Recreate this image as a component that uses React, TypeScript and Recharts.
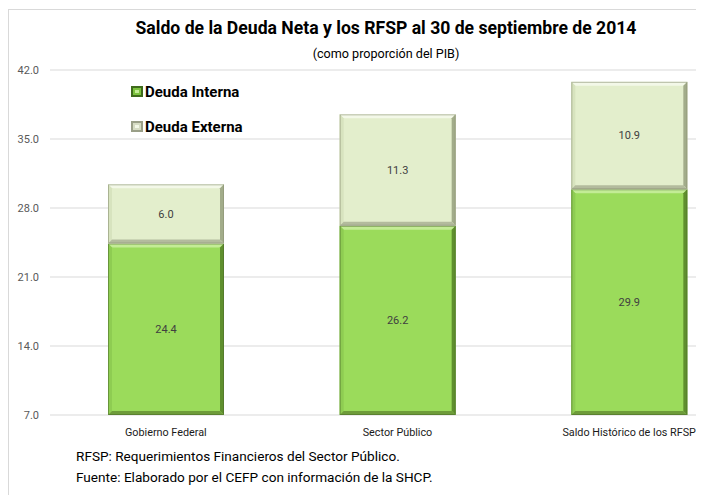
import React from 'react'
import { BarChart, Bar, XAxis, YAxis, CartesianGrid, Legend, LabelList } from 'recharts'

// values as % of GDP
const categories = ['Gobierno Federal', 'Sector Público', 'Saldo Histórico de los RFSP']
const deudaInterna = [24.4, 26.2, 29.9]
const deudaExterna = [6.0, 11.3, 10.9]
const yTicks = [7, 14, 21, 28, 35, 42]
const legendOrder = ['interna', 'externa']

const FONT = 'Roboto, "Noto Sans", sans-serif'

const bevelStyles: Record<string, any> = {
    interna: { fill: '#9BDB5B', top: '#C3EC95', left: '#8ECC52', right: '#5F8F2E', bottom: '#6E9C3A', edge: '#4F6F2B' },
    externa: { fill: '#E3EECC', top: '#F3F8E8', left: '#D7E3BE', right: '#A2AC8A', bottom: '#B3BB9D', edge: '#8C9374' },
}

const chartData = categories.map((name, i) => ({
    name,
    interna: deudaInterna[i],
    externa: deudaExterna[i],
}))

function bevelShape(key: string) {
    const c = bevelStyles[key]
    return (props: any) => {
        const { x, y, width: w, height: h } = props
        if (!w || !h || h <= 0) return <g />
        const b = Math.min(4, h / 3)
        const p = (pts: number[][]) => pts.map((q) => q.join(',')).join(' ')
        return (
            <g>
                <rect x={x} y={y} width={w} height={h} fill={c.fill} />
                <polygon points={p([[x, y], [x + w, y], [x + w - b, y + b], [x + b, y + b]])} fill={c.top} />
                <polygon points={p([[x, y], [x + b, y + b], [x + b, y + h - b], [x, y + h]])} fill={c.left} />
                <polygon points={p([[x + w, y], [x + w, y + h], [x + w - b, y + h - b], [x + w - b, y + b]])} fill={c.right} />
                <polygon points={p([[x, y + h], [x + b, y + h - b], [x + w - b, y + h - b], [x + w, y + h]])} fill={c.bottom} />
                <rect x={x + 0.5} y={y + 0.5} width={w - 1} height={h - 1} fill="none" stroke={c.edge} strokeWidth={1} strokeOpacity={0.6} />
            </g>
        )
    }
}

function LegendIcon({ k }: { k: string }) {
    const c = bevelStyles[k]
    const dark = k === 'interna' ? '#3F6B1C' : '#9A9F88'
    const mid = k === 'interna' ? '#7CC23E' : '#D6DCC4'
    return (
        <svg width={12} height={11} style={{ marginRight: 2 }}>
            <rect x={0} y={0} width={12} height={11} fill={dark} />
            <rect x={2} y={2} width={8} height={7} fill={mid} />
            <rect x={4} y={4} width={4} height={3} fill={c.top} />
        </svg>
    )
}

function renderLegend(props: any) {
    const items = [...(props.payload || [])].sort(
        (a: any, b: any) => legendOrder.indexOf(a.dataKey) - legendOrder.indexOf(b.dataKey)
    )
    return (
        <div style={{ fontFamily: FONT }}>
            {items.map((entry: any) => (
                <div
                    key={entry.value}
                    style={{ display: 'flex', alignItems: 'center', height: 35, fontWeight: 700, fontSize: 15, color: '#000' }}
                >
                    <LegendIcon k={entry.dataKey} />
                    <span>{entry.value}</span>
                </div>
            ))}
        </div>
    )
}

export default function App() {
    return (
        <div style={{ position: 'relative', width: 696, height: 487, overflow: 'hidden', fontFamily: FONT, background: '#fff' }}>
            <div style={{ position: 'absolute', left: 0, top: 1, width: 800, height: 600, border: '1px solid #D9D9D9' }} />
            <div style={{ position: 'absolute', left: 78, width: 600, top: 10, textAlign: 'center', fontWeight: 700, fontSize: 17.6, color: '#000' }}>
                Saldo de la Deuda Neta y los RFSP al 30 de septiembre de 2014
            </div>
            <div style={{ position: 'absolute', left: 78, width: 600, top: 38, textAlign: 'center', fontSize: 12.6, color: '#000' }}>
                (como proporción del PIB)
            </div>
            <div style={{ position: 'absolute', left: 0, top: 0 }}>
                <BarChart width={737} height={487} data={chartData} margin={{ top: 62, right: 0, left: 0, bottom: 50 }} barSize={116}>
                    <CartesianGrid vertical={false} stroke="#D9D9D9" />
                    <XAxis
                        dataKey="name"
                        axisLine={false}
                        tickLine={false}
                        tickSize={0}
                        tickMargin={13}
                        height={30}
                        tick={{ fill: '#1a1a1a', fontSize: 10.8, fontFamily: FONT }}
                    />
                    <YAxis
                        width={42}
                        domain={[7, 42]}
                        ticks={yTicks}
                        allowDataOverflow
                        axisLine={false}
                        tickLine={false}
                        tickSize={0}
                        tickMargin={11}
                        tickFormatter={(v: number) => v.toFixed(1)}
                        tick={{ fill: '#595959', fontSize: 11, fontFamily: FONT }}
                    />
                    <Legend
                        layout="vertical"
                        align="center"
                        verticalAlign="middle"
                        content={renderLegend}
                        wrapperStyle={{ left: 123, top: 66, width: 200, height: 70 }}
                    />
                    <Bar dataKey="interna" name="Deuda Interna" stackId="a" fill="#9BDB5B" shape={bevelShape('interna')} isAnimationActive={false}>
                        <LabelList dataKey="interna" position="center" formatter={(v: any) => Number(v).toFixed(1)} fill="#404040" fontSize={11} fontFamily={FONT} />
                    </Bar>
                    <Bar dataKey="externa" name="Deuda Externa" stackId="a" fill="#E3EECC" shape={bevelShape('externa')} isAnimationActive={false}>
                        <LabelList dataKey="externa" position="center" formatter={(v: any) => Number(v).toFixed(1)} fill="#404040" fontSize={11} fontFamily={FONT} />
                    </Bar>
                </BarChart>
            </div>
            <div style={{ position: 'absolute', left: 68, top: 438, fontSize: 13.6, lineHeight: '21px', color: '#000' }}>
                <div>RFSP: Requerimientos Financieros del Sector Público.</div>
                <div>Fuente: Elaborado por el CEFP con información de la SHCP.</div>
            </div>
        </div>
    )
}
